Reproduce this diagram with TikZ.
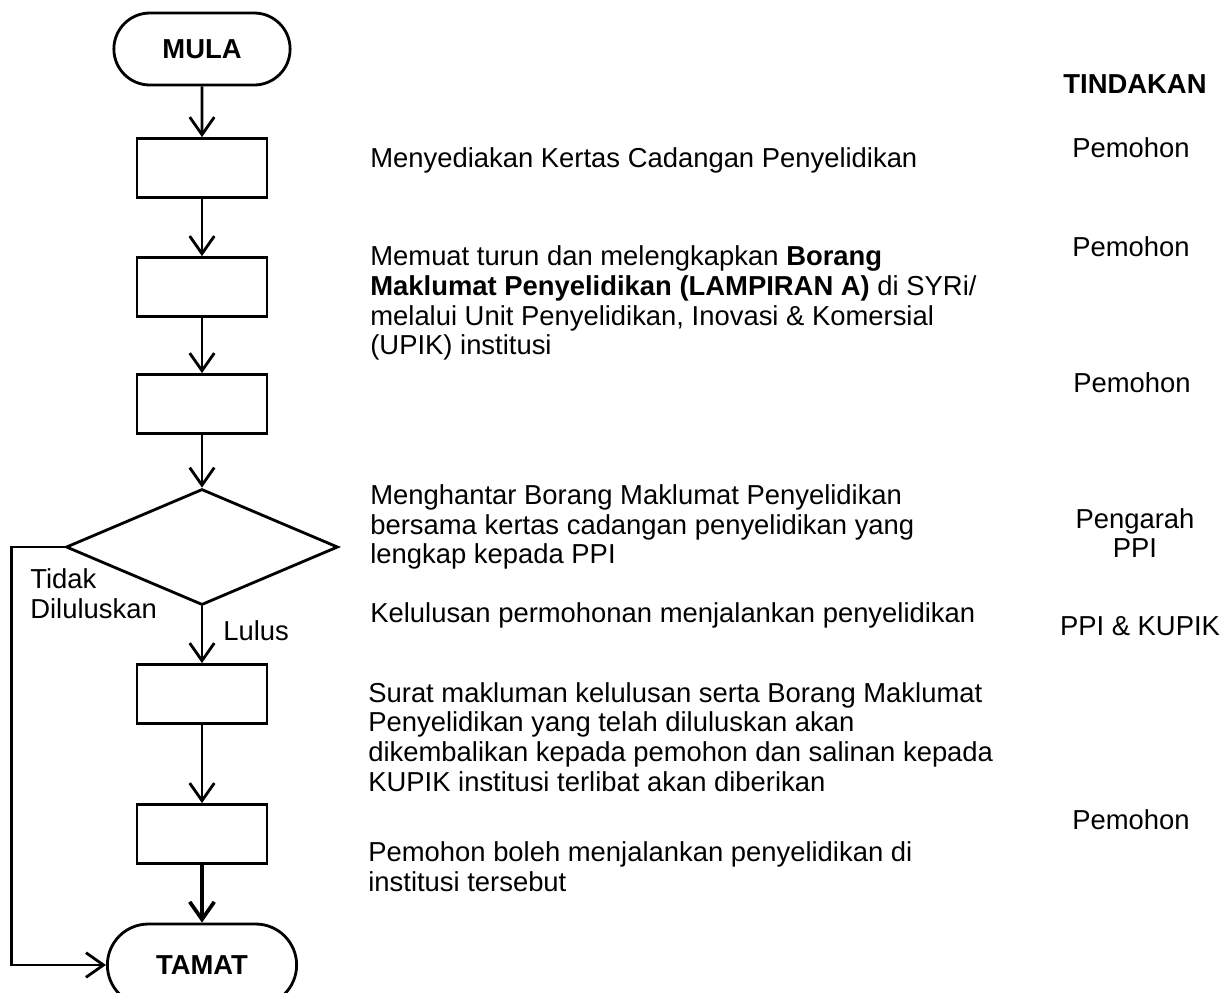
\documentclass[tikz,border=0pt]{standalone}
\usepackage{fontspec}
\setmainfont{Liberation Sans}
\usetikzlibrary{shapes.geometric, shapes.misc, arrows.meta, positioning}

\newcommand{\saizteks}{\fontsize{15.6}{17}\selectfont}

\tikzset{
	proses/.style={draw, line width=1.6pt, minimum width=2.6cm, minimum height=1.18cm},
	terminal/.style={draw, line width=1.6pt, rounded rectangle, minimum height=1.44cm, font=\saizteks\bfseries},
	semak/.style={draw, line width=1.6pt, diamond, inner sep=0pt, minimum width=5.44cm, minimum height=2.32cm},
	huraian/.style={anchor=west, align=left, inner sep=0pt},
	pelaku/.style={align=center, inner sep=0pt},
	aliran/.style={draw, ->, line width=1.6pt}
}

\begin{document}
\begin{tikzpicture}[x=0.02cm, y=-0.02cm, >={Straight Barb[length=10pt, width=14pt]}, every node/.append style={font=\saizteks}]

	\useasboundingbox (0,0) rectangle (1228,992);

	% carta alir
	\node[terminal, minimum width=3.76cm] (mula) at (202,49) {MULA};
	\node[proses] (b1) at (202,168) {};
	\node[proses] (b2) at (202,287) {};
	\node[proses] (b3) at (202,404) {};
	\node[semak] (putus) at (202,547) {};
	\node[proses] (b4) at (202,694) {};
	\node[proses] (b5) at (202,834) {};
	\node[terminal, minimum width=4.02cm, minimum height=1.64cm] (tamat) at (202,965) {TAMAT};

	\path
	(mula) edge[aliran] (b1)
	(b1) edge[aliran] (b2)
	(b2) edge[aliran] (b3)
	(b3) edge[aliran] (putus)
	(putus) edge[aliran] node[right=8pt, pos=0.42] {Lulus} (b4)
	(b4) edge[aliran] (b5);
	\draw[aliran, line width=2.1pt] (b5) -- (tamat);
	\draw[aliran] (putus.west) -- ++(-1.06cm,0) |- (tamat.west);

	\node[huraian] (tidak) at (30,594) {Tidak\\Diluluskan};

	% huraian proses
	\node[huraian] (t1) at (370,160) {Menyediakan Kertas Cadangan Penyelidikan};
	\node[huraian] (t2) at (370,303) {Memuat turun dan melengkapkan \textbf{Borang}\\
		\textbf{Maklumat Penyelidikan (LAMPIRAN A)} di SYRi/\\
		melalui Unit Penyelidikan, Inovasi \& Komersial\\
		(UPIK) institusi};
	\node[huraian] (t3) at (370,527) {Menghantar Borang Maklumat Penyelidikan\\
		bersama kertas cadangan penyelidikan yang\\
		lengkap kepada PPI};
	\node[huraian] (t4) at (370,615) {Kelulusan permohonan menjalankan penyelidikan};
	\node[huraian] (t5) at (368,737) {Surat makluman kelulusan serta Borang Maklumat\\
		Penyelidikan yang telah diluluskan akan\\
		dikembalikan kepada pemohon dan salinan kepada\\
		KUPIK institusi terlibat akan diberikan};
	\node[huraian] (t6) at (368,867) {Pemohon boleh menjalankan penyelidikan di\\
		institusi tersebut};

	% tindakan
	\node[pelaku, font=\saizteks\bfseries] (tindakan) at (1135,84) {TINDAKAN};
	\node[pelaku] (p1) at (1131,148) {Pemohon};
	\node[pelaku] (p2) at (1131,247) {Pemohon};
	\node[pelaku] (p3) at (1132,383) {Pemohon};
	\node[pelaku] (p4) at (1135,533) {Pengarah\\PPI};
	\node[pelaku] (p5) at (1140,626) {PPI \& KUPIK};
	\node[pelaku] (p6) at (1131,820) {Pemohon};

\end{tikzpicture}
\end{document}
